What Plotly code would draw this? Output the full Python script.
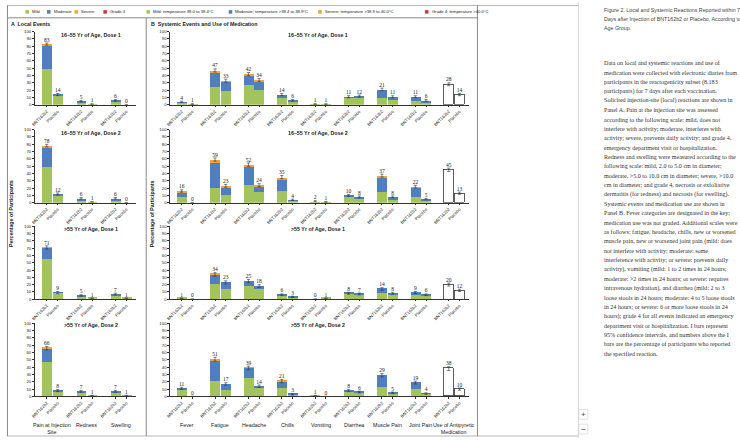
import plotly.graph_objects as go

W, H = 740, 441

# ---------------- data ----------------
panel_titles = ["16\u201355 Yr of Age, Dose 1", "16\u201355 Yr of Age, Dose 2",
                ">55 Yr of Age, Dose 1", ">55 Yr of Age, Dose 2"]
arm_labels = ["BNT162b2", "Placebo"]

local_categories = ["Pain at Injection<br>Site", "Redness", "Swelling"]
local_bnt_mild = [[50, 4, 5], [49, 4, 4], [55, 3, 5], [47, 5, 5]]
local_bnt_moderate = [[32, 1, 1], [27, 2, 2], [15, 2, 2], [18, 2, 2]]
local_bnt_severe = [[1, 0, 0], [2, 0, 0], [1, 0, 0], [1, 0, 0]]
local_bnt_grade4 = [[0, 0, 0], [0, 0, 0], [0, 0, 0], [0, 0, 0]]
local_pbo_mild = [[13, 1, 0], [11, 1, 0], [8, 1, 1], [7, 1, 1]]
local_pbo_moderate = [[1, 0, 0], [1, 0, 0], [1, 0, 0], [1, 0, 0]]
local_pbo_severe = [[0, 0, 0], [0, 0, 0], [0, 0, 0], [0, 0, 0]]
local_pbo_grade4 = [[0, 0, 0], [0, 0, 0], [0, 0, 0], [0, 0, 0]]
local_bnt_ci = [[1.5, 1.0, 1.0], [1.8, 1.0, 1.0], [2.2, 1.0, 1.2], [2.4, 1.3, 1.3]]
local_pbo_ci = [[1.5, 0.5, 0.3], [1.4, 0.5, 0.3], [1.5, 0.6, 0.6], [1.4, 0.6, 0.6]]

systemic_categories = ["Fever", "Fatigue", "Headache", "Chills", "Vomiting", "Diarrhea",
                       "Muscle Pain", "Joint Pain", "Use of Antipyretic<br>Medication"]
sys_bnt_mild = [[3, 25, 27, 10, 1, 10, 10, 6],
                [9, 21, 25, 17, 2, 9, 15, 9],
                [1, 20, 18, 5, 0, 7, 8, 5],
                [9, 21, 25, 11, 1, 7, 13, 10]]
sys_bnt_moderate = [[1, 20, 14, 4, 0, 1, 11, 5],
                    [6, 34, 24, 16, 0, 1, 20, 12],
                    [0, 13, 7, 1, 0, 1, 6, 4],
                    [2, 27, 13.5, 9, 0, 1, 16, 9]]
sys_bnt_severe = [[0, 2, 1, 0, 0, 0, 0, 0],
                  [1, 4, 3, 2, 0, 0, 2, 1],
                  [0, 1, 0, 0, 0, 0, 0, 0],
                  [0, 3, 0.5, 1, 0, 0, 0, 0]]
sys_bnt_grade4 = [[0, 0, 0, 0, 0, 0, 0, 0]] * 4
sys_pbo_mild = [[1, 20, 21, 5, 1, 10, 7, 3],
                [0, 11, 15, 3, 1, 7, 5, 3],
                [0, 13, 13, 2, 1, 6, 5, 3],
                [0, 9, 12, 2, 0, 5, 3, 3]]
sys_pbo_moderate = [[0, 12, 12, 1, 0, 2, 4, 3],
                    [0, 11, 8, 1, 0, 1, 3, 2],
                    [0, 10, 5, 1, 0, 1, 3, 3],
                    [0, 8, 2, 1, 0, 1, 2, 1]]
sys_pbo_severe = [[0, 1, 1, 0, 0, 0, 0, 0],
                  [0, 1, 1, 0, 0, 0, 0, 0],
                  [0, 0, 0, 0, 0, 0, 0, 0],
                  [0, 0, 0, 0, 0, 0, 0, 0]]
sys_pbo_grade4 = [[0, 0, 0, 0, 0, 0, 0, 0]] * 4
sys_bnt_ci = [[0.9, 2.2, 2.2, 1.5, 0.5, 1.4, 1.8, 1.4],
              [1.6, 2.2, 2.3, 2.1, 0.7, 1.4, 2.1, 1.8],
              [0.5, 2.4, 2.2, 1.2, 0.3, 1.4, 1.8, 1.5],
              [1.6, 2.6, 2.5, 2.1, 0.6, 1.4, 2.3, 2.0]]
sys_pbo_ci = [[0.5, 2.1, 2.1, 1.1, 0.5, 1.4, 1.4, 1.1],
              [0.3, 1.9, 2.0, 0.9, 0.5, 1.2, 1.2, 1.0],
              [0.3, 2.1, 1.9, 0.9, 0.5, 1.3, 1.4, 1.2],
              [0.3, 1.8, 1.7, 0.9, 0.3, 1.2, 1.1, 1.0]]
antipyretic_bnt = [28, 45, 20, 38]
antipyretic_pbo = [14, 13, 12, 10]
antipyretic_bnt_ci = [2.0, 2.3, 2.1, 2.6]
antipyretic_pbo_ci = [1.5, 1.5, 1.6, 1.5]

legend_a = ["Mild", "Moderate", "Severe", "Grade 4"]
legend_b = ["Mild; temperature 38.0 to 38.4\u00b0C", "Moderate; temperature >38.4 to 38.9\u00b0C",
            "Severe; temperature >38.9 to 40.0\u00b0C", "Grade 4; temperature >40.0\u00b0C"]
y_ticks = [0, 10, 20, 30, 40, 50, 60, 70, 80, 90, 100]

caption_title = ["Figure 2. Local and Systemic Reactions Reported within 7",
                 "Days after Injection of BNT162b2 or Placebo, According to",
                 "Age Group."]
caption_body = [
    "Data on local and systemic reactions and use of",
    "medication were collected with electronic diaries from",
    "participants in the reactogenicity subset (8,183",
    "participants) for 7 days after each vaccination.",
    "Solicited injection-site (local) reactions are shown in",
    "Panel A. Pain at the injection site was assessed",
    "according to the following scale: mild, does not",
    "interfere with activity; moderate, interferes with",
    "activity; severe, prevents daily activity; and grade 4,",
    "emergency department visit or hospitalization.",
    "Redness and swelling were measured according to the",
    "following scale: mild, 2.0 to 5.0 cm in diameter;",
    "moderate, >5.0 to 10.0 cm in diameter; severe, >10.0",
    "cm in diameter; and grade 4, necrosis or exfoliative",
    "dermatitis (for redness) and necrosis (for swelling).",
    "Systemic events and medication use are shown in",
    "Panel B. Fever categories are designated in the key;",
    "medication use was not graded. Additional scales were",
    "as follows: fatigue, headache, chills, new or worsened",
    "muscle pain, new or worsened joint pain (mild: does",
    "not interfere with activity; moderate: some",
    "interference with activity; or severe: prevents daily",
    "activity), vomiting (mild: 1 to 2 times in 24 hours;",
    "moderate: >2 times in 24 hours; or severe: requires",
    "intravenous hydration), and diarrhea (mild: 2 to 3",
    "loose stools in 24 hours; moderate: 4 to 5 loose stools",
    "in 24 hours; or severe: 6 or more loose stools in 24",
    "hours); grade 4 for all events indicated an emergency",
    "department visit or hospitalization. I bars represent",
    "95% confidence intervals, and numbers above the I",
    "bars are the percentage of participants who reported",
    "the specified reaction.",
]

# ---------------- style ----------------
C_MILD, C_MOD, C_SEV, C_G4 = "#a3c45c", "#4f7fbf", "#f2a33a", "#c0403b"
SANS = "Liberation Sans, Arial, sans-serif"
SERIF = "Liberation Serif, Times New Roman, serif"
DARK = "#222222"


def px(x):
    return x / W


def py(y):
    return 1 - y / H


row_px = [(30, 104), (129, 203), (227, 300.5), (325, 399)]  # (y at 100, y at 0)
A_X = (30.7, 133.0)
B_X = (166.7, 468.0)
A_RANGE = [-0.516, 2.45]
B_RANGE = [-0.515, 8.46]
OFF = 0.16

fig = go.Figure()
layout = {}
annotations = []
shapes = []


def add_panel(idx, n_groups, rng, xdom, ydom, segs_bnt, segs_pbo, ci_b, ci_p, width,
              extra=None, bottom=False, cats=None):
    xa = "x" if idx == 1 else f"x{idx}"
    ya = "y" if idx == 1 else f"y{idx}"
    groups = list(range(n_groups))
    xs = [g - OFF for g in groups] + [g + OFF for g in groups]
    colors = [C_MILD, C_MOD, C_SEV, C_G4]
    for k in range(4):
        fig.add_trace(go.Bar(x=xs, y=list(segs_bnt[k]) + list(segs_pbo[k]), width=width,
                             marker=dict(color=colors[k], line=dict(width=0)),
                             xaxis=xa, yaxis=ya, showlegend=False, hoverinfo="skip"))
    tot_b = [sum(segs_bnt[k][i] for k in range(4)) for i in groups]
    tot_p = [sum(segs_pbo[k][i] for k in range(4)) for i in groups]
    ex, ey, ee = xs[:], tot_b + tot_p, list(ci_b) + list(ci_p)
    if extra is not None:
        g = n_groups
        vb, vp, cb, cp = extra
        fig.add_trace(go.Bar(x=[g - OFF, g + OFF], y=[vb, vp], width=width,
                             marker=dict(color="white", line=dict(color="#333333", width=0.8)),
                             xaxis=xa, yaxis=ya, showlegend=False, hoverinfo="skip"))
        ex += [g - OFF, g + OFF]
        ey += [vb, vp]
        ee += [cb, cp]
        groups = groups + [g]
    fig.add_trace(go.Scatter(x=ex, y=ey, mode="markers", marker=dict(size=1, color="rgba(0,0,0,0)"),
                             error_y=dict(type="data", array=ee, visible=True, color="#333333",
                                          thickness=0.6, width=1.6),
                             xaxis=xa, yaxis=ya, showlegend=False, hoverinfo="skip"))
    fig.add_trace(go.Scatter(x=ex, y=[a + b for a, b in zip(ey, ee)], mode="text",
                             text=[str(int(round(v))) for v in ey], textposition="top center",
                             textfont=dict(size=5.5, family=SERIF, color=DARK),
                             cliponaxis=False, xaxis=xa, yaxis=ya, showlegend=False, hoverinfo="skip"))
    tv = [g - OFF for g in groups] + [g + OFF for g in groups]
    tt = [arm_labels[0]] * len(groups) + [arm_labels[1]] * len(groups)
    layout["xaxis" if idx == 1 else f"xaxis{idx}"] = dict(
        domain=[px(xdom[0]), px(xdom[1])], range=rng, anchor=ya, tickmode="array",
        tickvals=tv, ticktext=tt, tickangle=-45, tickfont=dict(size=4.3, family=SANS, color=DARK),
        showline=True, linecolor="#333333", linewidth=0.8, ticks="outside", ticklen=1.5,
        tickwidth=0.6, tickcolor="#333333", showgrid=False, zeroline=False, fixedrange=True)
    layout["yaxis" if idx == 1 else f"yaxis{idx}"] = dict(
        domain=[py(ydom[1]), py(ydom[0])], range=[0, 100], anchor=xa, tickmode="array",
        tickvals=y_ticks, ticktext=[str(v) for v in y_ticks],
        tickfont=dict(size=4.3, family=SANS, color=DARK), showline=True, linecolor="#333333",
        linewidth=0.8, ticks="outside", ticklen=1.5, tickwidth=0.6, tickcolor="#333333",
        showgrid=False, zeroline=False, fixedrange=True)
    if bottom:
        for g, c in zip(groups, cats):
            annotations.append(dict(x=g, y=py(423), xref=xa, yref="paper", text=c, showarrow=False,
                                    xanchor="center", yanchor="top",
                                    font=dict(size=5.3, family=SANS, color=DARK)))


for r in range(4):
    add_panel(r + 1, 3, A_RANGE, A_X, row_px[r],
              [local_bnt_mild[r], local_bnt_moderate[r], local_bnt_severe[r], local_bnt_grade4[r]],
              [local_pbo_mild[r], local_pbo_moderate[r], local_pbo_severe[r], local_pbo_grade4[r]],
              local_bnt_ci[r], local_pbo_ci[r], 0.29, bottom=(r == 3), cats=local_categories)
    add_panel(r + 5, 8, B_RANGE, B_X, row_px[r],
              [sys_bnt_mild[r], sys_bnt_moderate[r], sys_bnt_severe[r], sys_bnt_grade4[r]],
              [sys_pbo_mild[r], sys_pbo_moderate[r], sys_pbo_severe[r], sys_pbo_grade4[r]],
              sys_bnt_ci[r], sys_pbo_ci[r], 0.30,
              extra=(antipyretic_bnt[r], antipyretic_pbo[r], antipyretic_bnt_ci[r], antipyretic_pbo_ci[r]),
              bottom=(r == 3), cats=systemic_categories)

# subplot titles
title_y = [33, 132, 230, 327]
for r in range(4):
    for cx in (87, 316):
        annotations.append(dict(x=px(cx), y=py(title_y[r]), xref="paper", yref="paper",
                                text="<b>" + panel_titles[r] + "</b>", showarrow=False,
                                xanchor="center", yanchor="middle",
                                font=dict(size=5.3, family=SANS, color=DARK)))

# y axis titles
for cx in (6.5, 148.5):
    annotations.append(dict(x=px(cx), y=py(214), xref="paper", yref="paper",
                            text="<b>Percentage of Participants</b>", textangle=-90, showarrow=False,
                            xanchor="center", yanchor="middle",
                            font=dict(size=5.3, family=SANS, color=DARK)))

# panel headers
annotations.append(dict(x=px(5), y=py(22.5), xref="paper", yref="paper",
                        text="<b>A  Local Events</b>", showarrow=False, xanchor="left",
                        yanchor="middle", font=dict(size=5.3, family=SANS, color=DARK)))
annotations.append(dict(x=px(146), y=py(22.5), xref="paper", yref="paper",
                        text="<b>B  Systemic Events and Use of Medication</b>", showarrow=False,
                        xanchor="left", yanchor="middle", font=dict(size=5.3, family=SANS, color=DARK)))

# legends
leg_colors = [C_MILD, C_MOD, C_SEV, C_G4]
leg_a_x = [23.3, 45.0, 72.7, 101.7]
leg_b_x = [145.0, 227.7, 317.7, 425.0]
for lx_list, labels in ((leg_a_x, legend_a), (leg_b_x, legend_b)):
    for lx, lab, col in zip(lx_list, labels, leg_colors):
        shapes.append(dict(type="rect", xref="paper", yref="paper", x0=px(lx - 1.8), x1=px(lx + 1.8),
                           y0=py(11.8), y1=py(8.2), fillcolor=col, line=dict(width=0)))
        annotations.append(dict(x=px(lx + 3.0), y=py(10), xref="paper", yref="paper", text=lab,
                                showarrow=False, xanchor="left", yanchor="middle",
                                font=dict(size=4.2, family=SANS, color=DARK)))

# frame lines
def line(x0, y0, x1, y1, color="#8a8a8a", w=1):
    shapes.append(dict(type="line", xref="paper", yref="paper", x0=px(x0), y0=py(y0),
                       x1=px(x1), y1=py(y1), line=dict(color=color, width=w)))

line(3, 3.5, 577, 3.5, "#b5b5b5")
line(3, 439, 577, 439, "#b5b5b5")
line(3.5, 3.5, 3.5, 439)
line(3, 16, 476, 16)
line(143, 16, 143, 439)
line(476, 3.5, 476, 439)
line(577.5, 0, 577.5, 441, "#d5d5d5")

# zoom buttons
for yy, sym in ((417, "+"), (432, "\u2212")):
    shapes.append(dict(type="rect", xref="paper", yref="paper", x0=px(578), x1=px(587),
                       y0=py(yy + 5), y1=py(yy - 5), fillcolor="white", line=dict(color="#d0d0d0", width=0.6)))
    annotations.append(dict(x=px(582.5), y=py(yy), xref="paper", yref="paper", text=sym, showarrow=False,
                            xanchor="center", yanchor="middle", font=dict(size=8, family=SANS, color="#444")))

# caption sidebar
for i, t in enumerate(caption_title):
    annotations.append(dict(x=px(601), y=py(8.5 + 8.7 * i), xref="paper", yref="paper", text=t,
                            showarrow=False, xanchor="left", yanchor="middle",
                            font=dict(size=5.3, family=SANS, color="#444444")))
for i, t in enumerate(caption_body):
    annotations.append(dict(x=px(601), y=py(62 + 9.48 * i), xref="paper", yref="paper", text=t,
                            showarrow=False, xanchor="left", yanchor="middle",
                            font=dict(size=6.1, family=SERIF, color="#333333")))

fig.update_layout(**layout)
fig.update_layout(width=W, height=H, autosize=False, margin=dict(l=0, r=0, t=0, b=0),
                  paper_bgcolor="white", plot_bgcolor="white", barmode="stack", bargap=0,
                  showlegend=False, annotations=annotations, shapes=shapes)
fig.write_html("out.html", config={"displayModeBar": False})
